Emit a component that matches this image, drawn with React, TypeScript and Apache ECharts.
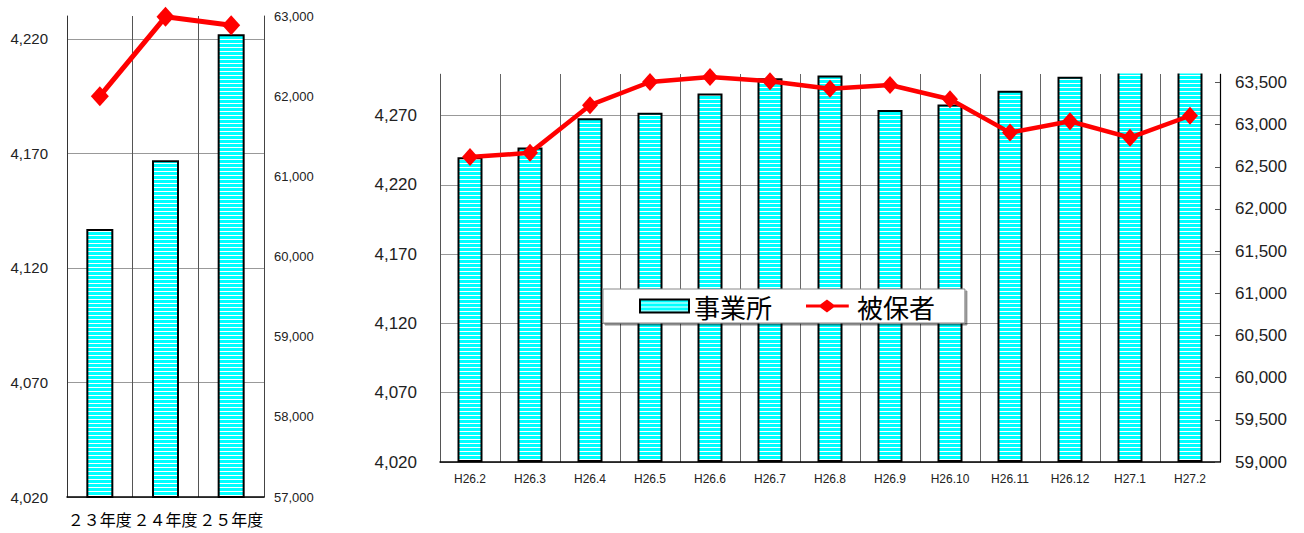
import React, { useEffect, useRef } from 'react';
import * as echarts from 'echarts';

// ---- Annual chart data ----
const YEAR_CATEGORIES = ['２３年度', '２４年度', '２５年度'];
const YEAR_OFFICES = [4137, 4167, 4222];
const YEAR_INSURED = [62000, 62990, 62885];
const YEAR_OFFICE_TICKS = [4020, 4070, 4120, 4170, 4220];
const YEAR_INSURED_TICKS = [57000, 58000, 59000, 60000, 61000, 62000, 63000];

// ---- Monthly chart data ----
const MONTH_CATEGORIES = [
  'H26.2', 'H26.3', 'H26.4', 'H26.5', 'H26.6', 'H26.7', 'H26.8',
  'H26.9', 'H26.10', 'H26.11', 'H26.12', 'H27.1', 'H27.2',
];
const MONTH_OFFICES = [4240, 4247, 4268, 4272, 4286, 4297, 4299, 4274, 4278, 4288, 4298, 4310, 4315];
const MONTH_INSURED = [62615, 62665, 63230, 63505, 63565, 63515, 63425, 63470, 63300, 62905, 63040, 62845, 63105];
const MONTH_OFFICE_TICKS = [4020, 4070, 4120, 4170, 4220, 4270];
const MONTH_INSURED_TICKS = [59000, 59500, 60000, 60500, 61000, 61500, 62000, 62500, 63000, 63500];

const SERIES_OFFICE = '事業所';
const SERIES_INSURED = '被保者';

const fmt = (v: number) => Number(v).toLocaleString('en-US');
const NUM_FONT = 'Liberation Sans, Arial, sans-serif';
const JP_FONT = 'Noto Sans CJK JP, sans-serif';

// legend icon: red line with a diamond in the middle
const LINE_DIAMOND_ICON =
  'path://M0,6 L17,6 L25,0 L33,6 L51,6 L51,9.5 L33,9.5 L25,15.5 L17,9.5 L0,9.5 Z';

export default function App() {
  const ref = useRef<HTMLDivElement>(null);

  useEffect(() => {
    if (!ref.current) return;
    const chart = echarts.init(ref.current, null, { renderer: 'svg' });

    const cv = document.createElement('canvas');
    cv.width = 4;
    cv.height = 4;
    const ctx = cv.getContext('2d')!;
    ctx.fillStyle = '#00FFFF';
    ctx.fillRect(0, 0, 4, 3);
    ctx.fillStyle = '#FFFFFF';
    ctx.fillRect(0, 3, 4, 1);
    const stripe: any = { image: cv, repeat: 'repeat', imageWidth: 4, imageHeight: 4 };

    const option: any = {
      animation: false,
      backgroundColor: '#fff',
      grid: [
        { left: 67, top: 16, width: 197, height: 481 },
        { left: 440, top: 74, width: 780, height: 388 },
      ],
      graphic: [
        {
          // white mask above the monthly plot area (bars running past the axis top are cut there)
          type: 'rect',
          left: 440,
          top: 40,
          shape: { width: 781, height: 33.5 },
          style: { fill: '#fff' },
          z: 2.5,
          silent: true,
        },
      ],
      legend: {
        left: 603,
        top: 289,
        orient: 'horizontal',
        selectedMode: false,
        data: [
          { name: SERIES_OFFICE, icon: 'rect' },
          { name: SERIES_INSURED, icon: LINE_DIAMOND_ICON, itemStyle: { color: '#FF0000', borderWidth: 0 } },
        ],
        itemWidth: 49,
        itemHeight: 13,
        itemGap: 34,
        padding: [4, 30, 4, 36],
        backgroundColor: '#fff',
        borderColor: '#888',
        borderWidth: 1,
        shadowColor: 'rgba(0,0,0,0.45)',
        shadowOffsetX: 2,
        shadowOffsetY: 2,
        shadowBlur: 0,
        textStyle: { fontSize: 26, fontFamily: JP_FONT, color: '#000' },
        z: 10,
      },
      xAxis: [
        {
          type: 'category',
          gridIndex: 0,
          data: YEAR_CATEGORIES,
          axisLine: { lineStyle: { color: '#000', width: 1.5 } },
          axisTick: { show: false },
          axisLabel: { interval: 0, fontSize: 16, fontFamily: JP_FONT, color: '#000', margin: 14 },
          splitLine: { show: true, interval: 0, lineStyle: { color: '#555', width: 1 } },
        },
        {
          type: 'category',
          gridIndex: 1,
          data: MONTH_CATEGORIES,
          axisLine: { lineStyle: { color: '#000', width: 1.5 } },
          axisTick: { show: false },
          axisLabel: { interval: 0, fontSize: 12, fontFamily: NUM_FONT, color: '#222', margin: 11 },
          splitLine: { show: true, interval: 0, lineStyle: { color: '#666', width: 1 } },
        },
      ],
      yAxis: [
        {
          type: 'value',
          gridIndex: 0,
          position: 'left',
          min: 4020,
          max: 4230,
          axisLine: { show: true, lineStyle: { color: '#333', width: 1 } },
          axisTick: { show: false, customValues: YEAR_OFFICE_TICKS },
          axisLabel: {
            customValues: YEAR_OFFICE_TICKS,
            formatter: fmt,
            fontSize: 15,
            fontFamily: NUM_FONT,
            color: '#222',
            margin: 19,
          },
          splitLine: { show: true, lineStyle: { color: '#999', width: 1 } },
        },
        {
          type: 'value',
          gridIndex: 0,
          position: 'right',
          min: 57000,
          max: 63000,
          axisLine: { show: true, lineStyle: { color: '#444', width: 1 } },
          axisTick: { show: false, customValues: YEAR_INSURED_TICKS },
          axisLabel: {
            customValues: YEAR_INSURED_TICKS,
            formatter: fmt,
            fontSize: 13,
            fontFamily: NUM_FONT,
            color: '#222',
            margin: 10,
          },
          splitLine: { show: false },
        },
        {
          type: 'value',
          gridIndex: 1,
          position: 'left',
          min: 4020,
          max: 4300,
          startValue: 4020,
          axisLine: { show: true, lineStyle: { color: '#555', width: 1 } },
          axisTick: { show: false, customValues: MONTH_OFFICE_TICKS },
          axisLabel: {
            customValues: MONTH_OFFICE_TICKS,
            formatter: fmt,
            fontSize: 17,
            fontFamily: NUM_FONT,
            color: '#222',
            margin: 23,
          },
          splitLine: { show: true, lineStyle: { color: '#999', width: 1 } },
        },
        {
          type: 'value',
          gridIndex: 1,
          position: 'right',
          min: 59000,
          max: 63600,
          axisLine: { show: true, lineStyle: { color: '#000', width: 1.2 } },
          axisTick: { show: true, inside: true, length: 5, customValues: MONTH_INSURED_TICKS, lineStyle: { color: '#555' } },
          axisLabel: {
            customValues: MONTH_INSURED_TICKS,
            formatter: fmt,
            fontSize: 17,
            fontFamily: NUM_FONT,
            color: '#222',
            margin: 15,
          },
          splitLine: { show: false },
        },
      ],
      series: [
        {
          name: SERIES_OFFICE,
          type: 'bar',
          xAxisIndex: 0,
          yAxisIndex: 0,
          data: YEAR_OFFICES,
          barWidth: 27,
          itemStyle: { color: stripe, borderColor: '#000', borderWidth: 2 },
          z: 2,
        },
        {
          name: SERIES_INSURED,
          type: 'line',
          xAxisIndex: 0,
          yAxisIndex: 1,
          data: YEAR_INSURED,
          color: '#FF0000',
          lineStyle: { color: '#FF0000', width: 5 },
          itemStyle: { color: '#FF0000' },
          symbol: 'diamond',
          symbolSize: [18, 20],
          clip: false,
          z: 3,
        },
        {
          name: SERIES_OFFICE,
          type: 'bar',
          xAxisIndex: 1,
          yAxisIndex: 2,
          data: MONTH_OFFICES,
          barWidth: 25,
          clip: false,
          itemStyle: { color: stripe, borderColor: '#000', borderWidth: 2 },
          z: 2,
        },
        {
          name: SERIES_INSURED,
          type: 'line',
          xAxisIndex: 1,
          yAxisIndex: 3,
          data: MONTH_INSURED,
          color: '#FF0000',
          lineStyle: { color: '#FF0000', width: 4.5 },
          itemStyle: { color: '#FF0000' },
          symbol: 'diamond',
          symbolSize: [16, 18],
          clip: false,
          z: 3,
        },
      ],
    };

    chart.setOption(option);
    return () => {
      chart.dispose();
    };
  }, []);

  return (
    <div
      ref={ref}
      style={{ position: 'absolute', left: 0, top: 0, width: 1304, height: 533 }}
    />
  );
}
